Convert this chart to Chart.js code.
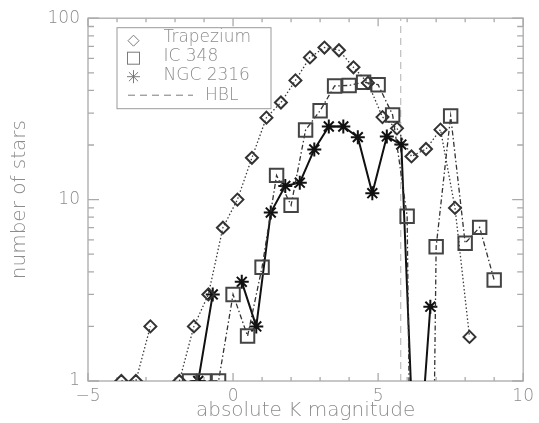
<!DOCTYPE html>
<html><head><meta charset="utf-8">
<script src="https://cdn.jsdelivr.net/npm/chart.js@4.4.1/dist/chart.umd.min.js"></script>
<style>html,body{margin:0;padding:0;background:#fff}#wrap{width:539px;height:423px;position:relative}</style>
</head><body><div id="wrap"><canvas id="c" width="539" height="423"></canvas></div>
<script>
// ---- data ----
const trapX = [-3.85,-3.35,-2.85,-2.35,-1.85,-1.35,-0.85,-0.35,0.15,0.65,1.15,1.65,2.15,2.65,3.15,3.65,4.15,4.65,5.15,5.65,6.15,6.65,7.15,7.65,8.15];
const trapY = [1,1,2,null,1,2,3,7,10,17,28.3,34.3,45.4,60.8,68.9,66.6,53.6,44,28.5,24.7,17.3,19,24.3,9,1.75];
const icX = [-1.5,-1.0,-0.5,0.0,0.5,1.0,1.5,2.0,2.5,3.0,3.5,4.0,4.5,5.0,5.5,6.0,6.5,7.0,7.5,8.0,8.5,9.0];
const icY = [1,1,1,3,1.77,4.24,13.6,9.3,24.2,30.9,42.3,42.6,44.4,43,29.3,8.1,0,5.5,28.9,5.75,7.03,3.6];
const ngcX = [-1.2,-0.7,-0.2,0.3,0.8,1.3,1.8,2.3,2.8,3.3,3.8,4.3,4.8,5.3,5.8,6.3,6.8];
const ngcY = [1,3,null,3.52,2,8.48,11.9,12.4,18.9,25.3,25.3,22.1,10.85,22.3,20.1,0.2,2.57];
const hblX = 5.78;
const seriesNames = ['Trapezium','IC 348','NGC 2316','HBL'];
const xTicks = [-5,0,5,10];
const yTicks = [1,10,100];
const xMinor = [-5,-4,-3,-2,-1,0,1,2,3,4,5,6,7,8,9,10];
const yMinor = [1,2,3,4,5,6,7,8,9,10,20,30,40,50,60,70,80,90,100];
const LOG_FLOOR = 1e-6; // zero counts on a log axis (drawn far below the frame, like IDL)

const FONT = '"DejaVu Sans", "Liberation Sans", sans-serif';
const WEIGHT = 200;
const AXIS = '#aaaaaa';
const TEXT = '#8c8c8c';

function pts(xs, ys){
  return xs.map((x,i)=>({x:x, y: ys[i]===null ? null : (ys[i]===0 ? LOG_FLOOR : ys[i])}));
}

const framePlugin = {
  id:'frame',
  beforeDatasetsDraw(chart){
    const {ctx, chartArea:a, scales:{x, y}} = chart;
    ctx.save();
    ctx.strokeStyle = AXIS; ctx.lineWidth = 1.3;
    ctx.strokeRect(a.left, a.top, a.right-a.left, a.bottom-a.top);
    ctx.beginPath();
    xMinor.forEach(v=>{
      const px = x.getPixelForValue(v);
      const L = xTicks.includes(v) ? 8 : 4;
      ctx.moveTo(px, a.bottom); ctx.lineTo(px, a.bottom-L);
      ctx.moveTo(px, a.top); ctx.lineTo(px, a.top+L);
    });
    yMinor.forEach(v=>{
      const py = y.getPixelForValue(v);
      const L = yTicks.includes(v) ? 11 : 6;
      ctx.moveTo(a.left, py); ctx.lineTo(a.left+L, py);
      ctx.moveTo(a.right, py); ctx.lineTo(a.right-L, py);
    });
    ctx.stroke();
    ctx.restore();
  },
  afterDatasetsDraw(chart){
    const {ctx, chartArea:a} = chart;
    const bx = a.left + 29, by = a.top + 9.5, bw = 154, bh = 81;
    ctx.save();
    ctx.strokeStyle = '#9a9a9a'; ctx.lineWidth = 1;
    ctx.strokeRect(bx, by, bw, bh);
    const sx = bx + 16.5, tx = bx + 46.5;
    const rowsT = [by+9.5, by+28.5, by+48, by+67.5];
    const rowsS = [by+13, by+30.5, by+49, by+67.5];
    ctx.strokeStyle = '#7a7a7a'; ctx.lineWidth = 1;
    ctx.beginPath();
    ctx.moveTo(sx-5.5, rowsS[0]); ctx.lineTo(sx, rowsS[0]-5.5); ctx.lineTo(sx+5.5, rowsS[0]); ctx.lineTo(sx, rowsS[0]+5.5); ctx.closePath();
    ctx.stroke();
    ctx.strokeRect(sx-6, rowsS[1]-6, 12, 12);
    ctx.beginPath();
    const r = 6.5;
    for (let k=0;k<4;k++){
      const ang = k*Math.PI/4;
      ctx.moveTo(sx - r*Math.cos(ang), rowsS[2] - r*Math.sin(ang));
      ctx.lineTo(sx + r*Math.cos(ang), rowsS[2] + r*Math.sin(ang));
    }
    ctx.stroke();
    ctx.setLineDash([7,5]);
    ctx.beginPath(); ctx.moveTo(bx+11, rowsS[3]); ctx.lineTo(bx+76, rowsS[3]); ctx.stroke();
    ctx.setLineDash([]);
    ctx.fillStyle = TEXT;
    ctx.font = WEIGHT + ' 17px ' + FONT;
    ctx.textBaseline = 'middle';
    ctx.textAlign = 'left';
    ctx.fillText(seriesNames[0], tx, rowsT[0]);
    ctx.fillText(seriesNames[1], tx, rowsT[1]);
    ctx.fillText(seriesNames[2], tx, rowsT[2]);
    ctx.fillText(seriesNames[3], bx + 88, rowsT[3]);
    ctx.restore();
  }
};

new Chart(document.getElementById('c'), {
  type:'scatter',
  data:{
    datasets:[
      {label:seriesNames[0], data:pts(trapX, trapY), showLine:true, clip:0,
       borderColor:'#3a3a3a', borderWidth:1.3, borderDash:[1.5,2.2],
       pointStyle:'rectRot', pointRadius:6, pointBorderWidth:2, pointBorderColor:'#333',
       pointBackgroundColor:'rgba(0,0,0,0)'},
      {label:seriesNames[1], data:pts(icX, icY), showLine:true, clip:0,
       borderColor:'#333', borderWidth:1.3, borderDash:[5,2.5,1.5,2.5],
       pointStyle:'rect', pointRadius:9.5, pointBorderWidth:2, pointBorderColor:'#444',
       pointBackgroundColor:'rgba(0,0,0,0)'},
      {label:seriesNames[2], data:pts(ngcX, ngcY), showLine:true, clip:0,
       borderColor:'#111', borderWidth:2,
       pointStyle:'star', pointRadius:7, pointBorderWidth:2, pointBorderColor:'#111',
       pointBackgroundColor:'rgba(0,0,0,0)'},
      {label:seriesNames[3], data:[{x:hblX,y:yTicks[0]},{x:hblX,y:yTicks[2]}], showLine:true, clip:0,
       borderColor:'#b0b0b0', borderWidth:1, borderDash:[7,5], pointRadius:0}
    ]
  },
  options:{
    responsive:false, animation:false, devicePixelRatio:1,
    layout:{padding:{top:13, right:12, left:0, bottom:0}},
    plugins:{legend:{display:false}, tooltip:{enabled:false}},
    elements:{line:{tension:0}},
    scales:{
      x:{type:'linear', position:'bottom', min:-5, max:10,
        grid:{display:false, drawTicks:false}, border:{display:false},
        afterBuildTicks(s){ s.ticks = xTicks.map(v=>({value:v})); },
        afterFit(s){ s.height = 42; },
        ticks:{autoSkip:false, maxRotation:0, padding:5, color:TEXT,
          font:{family:FONT, size:17, weight:WEIGHT},
          callback:(v)=> v<0 ? '\u2212'+Math.abs(v) : String(v)},
        title:{display:true, text:'absolute K magnitude', color:TEXT,
          font:{family:FONT, size:20, weight:WEIGHT}, padding:{top:0, bottom:0}}
      },
      y:{type:'logarithmic', position:'left', min:1, max:100,
        grid:{display:false, drawTicks:false}, border:{display:false},
        afterBuildTicks(s){ s.ticks = yTicks.map(v=>({value:v})); },
        afterFit(s){ s.width = 88; },
        ticks:{autoSkip:false, padding:8, color:TEXT,
          font:{family:FONT, size:17, weight:WEIGHT},
          callback:(v)=> String(v)},
        title:{display:true, text:'number of stars', color:TEXT,
          font:{family:FONT, size:20, weight:WEIGHT}, padding:{top:8, bottom:0}}
      }
    }
  },
  plugins:[framePlugin]
});
</script>
</body></html>
